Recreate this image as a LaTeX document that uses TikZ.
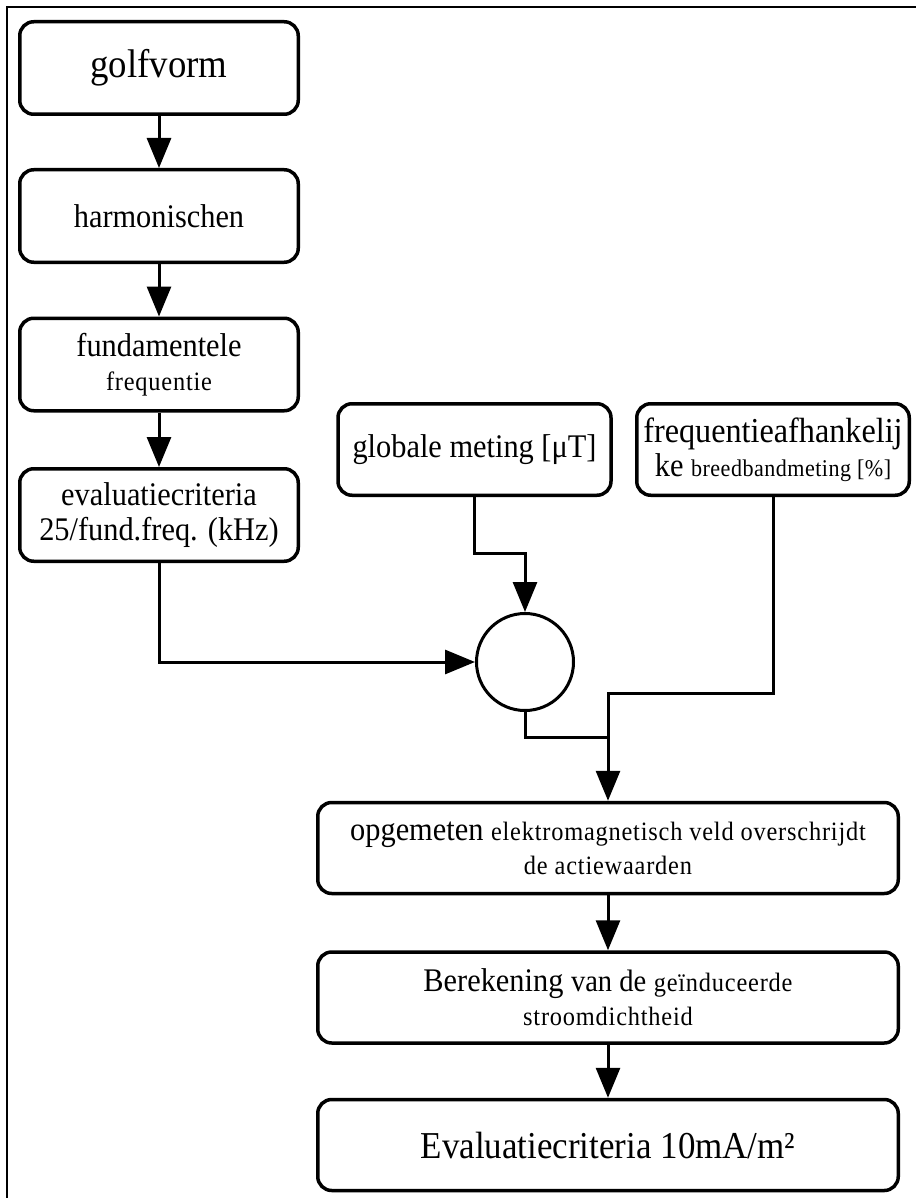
\documentclass[tikz,border=0pt]{standalone}
\usepackage{fontspec}
\setmainfont{Liberation Serif}[FakeStretch=0.92]
\usetikzlibrary{arrows.meta,shapes.geometric}
\newcommand\fBig{\fontsize{33}{34}\selectfont}
\newcommand\fSm{\fontsize{26.5}{34}\selectfont\addfontfeatures{LetterSpace=3}}
\newcommand\fTiny{\fontsize{24}{34}\selectfont\addfontfeatures{LetterSpace=2}}
\begin{document}
\begin{tikzpicture}[x=1pt,y=-1pt,
  box/.style={draw, line width=3.5pt, rounded corners=14pt, align=center, inner sep=0pt,
              minimum width=278.5pt, minimum height=92.5pt, font=\fBig},
  widebox/.style={box, minimum width=580.5pt, minimum height=91pt},
  midbox/.style={box, minimum width=273pt, minimum height=91.5pt},
  ln/.style={line width=3pt},
  arr/.style={line width=3pt, -{Triangle[length=30pt,width=24pt]}}]
\useasboundingbox (0,0) rectangle (915,1198);
% frame
\draw[line width=2.5pt] (7,1200) -- (7,7) -- (917,7);
% left column
\node[box] (golf) at (159,68) {\fontsize{40}{42}\selectfont golfvorm};
\node[box] (harm) at (159,216) {harmonischen};
\node[box] (fund) at (159,364.5) {fundamentele\\{\fSm frequentie}};
\node[box] (eval) at (159,515) {evaluatiecriteria\\[1pt]25/fund.freq. (kHz)};
% top right
\node[midbox] (glob) at (474.5,449.5) {globale meting [μT]};
\node[midbox, minimum width=272.5pt] (freq) at (773,449.5) {\fontsize{35}{38}\selectfont frequentieafhankelij\\ke {\fTiny breedbandmeting [\%]}};
% junction circle
\node[draw, circle, line width=3pt, minimum size=97pt, inner sep=0pt] (circ) at (525,662) {};
% bottom column
\node[widebox] (opg) at (608,848) {opgemeten {\fSm elektromagnetisch veld overschrijdt}\\{\fSm de actiewaarden}};
\node[widebox] (ber) at (608,997.5) {Berekening {\fontsize{31}{34}\selectfont van de} {\fSm geïnduceerde}\\{\fSm stroomdichtheid}};
\node[widebox] (fin) at (608,1145) {\fontsize{38}{40}\selectfont Evaluatiecriteria 10mA/m²};
% bend points
\coordinate (b1) at (525,553);
\coordinate (b2) at (608,693);
\coordinate (b3) at (608,737);
% connectors
\draw[arr] (golf) -- (harm);
\draw[arr] (harm) -- (fund);
\draw[arr] (fund) -- (eval);
\draw[arr] (eval.south) |- (circ.west);
\draw[arr] (glob.south) |- (b1) -- (circ.north);
\draw[arr] (freq.south) |- (b2) -- (opg.north);
\draw[ln] (circ.south) |- (b3);
\draw[arr] (opg) -- (ber);
\draw[arr] (ber) -- (fin);
\end{tikzpicture}
\end{document}
